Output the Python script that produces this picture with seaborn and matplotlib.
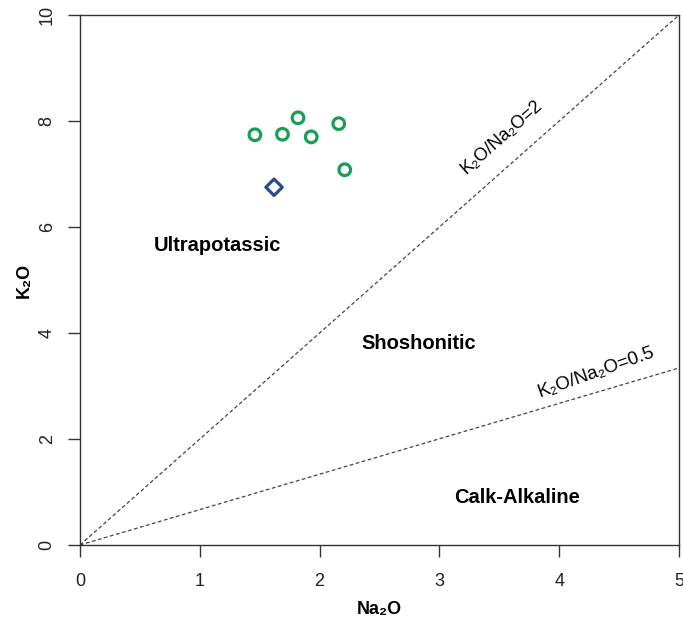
import numpy as np
import pandas as pd
import seaborn as sns
import matplotlib.pyplot as plt

# Daten
na2o_samples = [1.46, 1.69, 1.82, 1.93, 2.16, 2.21]
k2o_samples = [7.74, 7.75, 8.06, 7.70, 7.95, 7.08]
na2o_ref = [1.62]
k2o_ref = [6.75]

# Grenzlinien (Na2O-Endpunkt, K2O-Endpunkt)
line_x = [0, 5]
line_hi_y = [0, 10]
line_lo_y = [0, 3.34]

field_labels = ["Ultrapotassic", "Shoshonitic", "Calk-Alkaline"]
field_x = [1.15, 2.83, 3.65]
field_y = [5.66, 3.81, 0.89]

df = pd.DataFrame({
    "Na2O": na2o_samples + na2o_ref,
    "K2O": k2o_samples + k2o_ref,
    "Gruppe": ["Probe"] * len(na2o_samples) + ["Referenz"] * len(na2o_ref),
})

sns.set_style("white")
plt.rcParams["font.family"] = ["Liberation Sans", "DejaVu Sans"]
plt.rcParams["text.color"] = "black"

fig = plt.figure(figsize=(6.83, 6.18), dpi=100)
ax = fig.add_axes([80 / 683, 73 / 618, 599 / 683, 530 / 618])

ax.plot(line_x, line_hi_y, ls=(0, (3, 2)), color="#444444", lw=0.9)
ax.plot(line_x, line_lo_y, ls=(0, (3, 2)), color="#444444", lw=0.9)

sns.scatterplot(
    data=df, x="Na2O", y="K2O", style="Gruppe", hue="Gruppe",
    markers={"Probe": "o", "Referenz": "D"},
    palette={"Probe": "#1a9e55", "Referenz": "#2b4a8c"},
    s=80, legend=False, ax=ax,
    facecolor="none", linewidth=2.3,
)
# Hohlsymbole
for coll in ax.collections:
    fc = coll.get_facecolors()
    coll.set_edgecolors(fc)
    coll.set_facecolors("none")
ax.collections[0].set_sizes([70])

ax.set_xlim(0, 5)
ax.set_ylim(0, 10)
ax.set_xticks(range(0, 6))
ax.set_yticks(range(0, 11, 2))
ax.tick_params(direction="out", length=8.5, width=1, labelsize=13,
               bottom=True, left=True, color="#333333", labelcolor="#222222")
ax.tick_params(axis="x", pad=11.5)
ax.tick_params(axis="y", pad=9)
plt.setp(ax.get_yticklabels(), rotation=90, va="center")
for s in ax.spines.values():
    s.set_color("#333333")
    s.set_linewidth(1)

ax.set_xlabel("Na₂O", fontsize=13, fontweight="bold", labelpad=8, color="black")
ax.set_ylabel("K₂O", fontsize=13, fontweight="bold", labelpad=4, color="black")

for lab, x, y in zip(field_labels, field_x, field_y):
    ax.text(x, y, lab, ha="center", va="center", fontsize=14.5, fontweight="bold")

ax.text(3.52, 7.70, "K₂O/Na₂O=2", ha="center", va="center", fontsize=13,
        rotation=41.5, rotation_mode="anchor")
ax.text(4.31, 3.26, "K₂O/Na₂O=0.5", ha="center", va="center", fontsize=13.5,
        rotation=19.5, rotation_mode="anchor")

plt.savefig("out.png", dpi=100)
